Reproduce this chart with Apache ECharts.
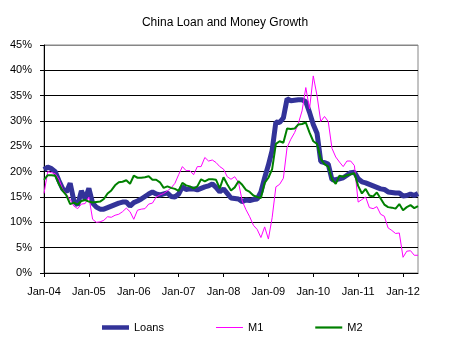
<!DOCTYPE html>
<html>
<head>
<meta charset="utf-8">
<script src="https://cdn.jsdelivr.net/npm/echarts@6/dist/echarts.min.js"></script>
<style>html,body{margin:0;padding:0;background:#fff}#c{width:450px;height:343px}</style>
</head>
<body>
<div id="c"></div>
<script>
var months = ['Jan','Feb','Mar','Apr','May','Jun','Jul','Aug','Sep','Oct','Nov','Dec'];
var categories = [];
for (var y = 4; y <= 12; y++) {
  for (var m = 0; m < 12; m++) {
    if (y === 12 && m > 4) break;
    categories.push(months[m] + '-' + (y < 10 ? '0' + y : '' + y));
  }
}
var loans = [
  20.4, 20.9, 20.6, 20.0, 18.2, 16.6, 16.0, 17.7, 14.2, 13.4, 16.2, 14.6,
  16.7, 13.8, 13.0, 12.6, 12.6, 12.9, 13.2, 13.5, 13.8, 14.0, 14.0, 13.2,
  13.9, 14.2, 14.6, 15.1, 15.6, 16.0, 15.6, 15.4, 15.6, 15.8, 15.1, 15.0,
  15.6, 17.0, 16.5, 16.6, 16.6, 16.4, 16.7, 17.0, 17.2, 17.6, 16.9, 16.0,
  16.6, 15.7, 14.8, 14.7, 14.6, 14.1, 14.4, 14.3, 14.5, 14.6, 16.0, 18.8,
  21.3, 24.2, 29.8, 29.7, 30.6, 34.4, 34.0, 34.1, 34.2, 34.2, 33.8, 31.7,
  29.3, 27.6, 22.0, 21.8, 21.5, 18.4, 18.4, 18.6, 18.8, 19.3, 19.8, 19.9,
  18.6, 18.0, 17.8, 17.5, 17.2, 16.9, 16.6, 16.5, 16.0, 15.9, 15.8, 15.8,
  15.2, 15.3, 15.6, 15.3, 15.7
];
var m1 = [
  15.7, 20.0, 19.8, 19.6, 18.5, 16.5, 15.5, 14.5, 13.2, 12.7, 13.6, 13.7,
  15.0, 10.6, 10.0, 10.1, 10.4, 11.1, 11.0, 11.4, 11.6, 12.1, 12.8, 12.1,
  10.6, 12.4, 12.6, 12.7, 13.6, 13.8, 15.0, 15.4, 15.7, 16.2, 16.8, 17.7,
  19.4, 21.0, 20.2, 20.2, 19.4, 21.0, 21.0, 22.8, 22.1, 22.3, 21.8, 21.0,
  20.5, 19.0, 18.5, 19.0, 17.9, 14.2, 12.5, 11.1, 9.4, 8.6, 7.0, 9.1,
  6.7, 10.9, 17.0, 17.5, 18.7, 24.8, 26.4, 27.7, 29.5, 32.0, 36.6, 32.4,
  38.9, 35.0, 29.9, 30.9, 29.9, 24.6, 22.9, 21.9, 21.0, 22.1, 22.1, 21.2,
  14.0, 14.5, 15.0, 12.9, 12.7, 13.1, 11.6, 11.2, 8.9, 8.4, 7.8, 7.9,
  3.1, 4.3, 4.4, 3.5, 3.5
];
var m2 = [
  18.4, 19.3, 19.3, 19.2, 17.5, 16.2, 15.3, 13.6, 13.9, 13.5, 14.2, 14.4,
  14.1, 13.9, 14.0, 14.1, 14.6, 15.7, 16.3, 17.3, 17.9, 18.0, 18.3, 17.6,
  19.2, 18.8, 18.8, 18.9, 19.1, 18.4, 18.4, 17.9, 16.8, 17.1, 16.8, 16.6,
  16.2, 17.8, 17.3, 17.1, 16.7, 17.1, 18.5, 18.1, 18.5, 18.5, 18.4, 16.7,
  18.9, 17.5, 16.3, 16.9, 18.1, 17.4, 16.4, 16.0, 15.3, 15.0, 14.8, 17.8,
  18.8, 20.5, 25.5, 26.0, 25.7, 28.5, 28.4, 28.5, 29.3, 29.4, 29.7, 27.7,
  26.0, 25.5, 22.5, 21.5, 21.0, 18.5, 17.6, 19.2, 19.0, 19.3, 19.5, 19.7,
  17.2, 15.7, 16.6, 15.3, 15.1, 15.9, 14.7, 13.5, 13.0, 12.9, 12.7, 13.6,
  12.4, 13.0, 13.4, 12.8, 13.2
];
var yMin = 0, yMax = 45, yStep = 5;

var font = 'Liberation Sans';
var chart = echarts.init(document.getElementById('c'), null, {renderer: 'canvas'});
chart.setOption({
  backgroundColor: '#fff',
  animation: false,
  title: {
    text: 'China Loan and Money Growth',
    left: 'center',
    top: 12,
    textStyle: {fontFamily: font, fontSize: 12, fontWeight: 'normal', color: '#000'}
  },
  legend: {
    left: 97,
    top: 317,
    itemWidth: 27,
    itemHeight: 12,
    itemGap: 52,
    textStyle: {fontFamily: font, fontSize: 11, color: '#000'},
    data: [
      {name: 'Loans', icon: 'path://M0,0h27v4.5h-27z'},
      {name: 'M1', icon: 'path://M0,0h27v1h-27z'},
      {name: 'M2', icon: 'path://M0,0h27v2.2h-27z'}
    ]
  },
  grid: {
    left: 44, right: 32, top: 45, bottom: 70,
    show: true, borderColor: '#868686', borderWidth: 1, backgroundColor: '#fff'
  },
  xAxis: {
    type: 'category',
    data: categories,
    boundaryGap: false,
    axisLine: {lineStyle: {color: '#000', width: 1}},
    axisTick: {interval: 11, length: 4, lineStyle: {color: '#000'}},
    axisLabel: {interval: 11, margin: 13, fontFamily: font, fontSize: 11, color: '#000'},
    splitLine: {show: false}
  },
  yAxis: {
    type: 'value',
    min: yMin, max: yMax, interval: yStep,
    axisLine: {show: true, lineStyle: {color: '#000', width: 1}},
    axisTick: {show: true, length: 4, lineStyle: {color: '#000'}},
    axisLabel: {formatter: '{value}%', margin: 12, fontFamily: font, fontSize: 11, color: '#000'},
    splitLine: {show: true, lineStyle: {color: ['#000','#000','#000','#000','#000','#000','#000','#000','#000','#868686'], width: 1}}
  },
  series: [
    {name: 'Loans', type: 'line', data: loans, symbol: 'none', lineStyle: {color: '#333399', width: 5}, itemStyle: {color: '#333399'}},
    {name: 'M1', type: 'line', data: m1, symbol: 'none', lineStyle: {color: '#FF00FF', width: 1}, itemStyle: {color: '#FF00FF'}},
    {name: 'M2', type: 'line', data: m2, symbol: 'none', lineStyle: {color: '#008000', width: 2}, itemStyle: {color: '#008000'}}
  ]
});
</script>
</body>
</html>
